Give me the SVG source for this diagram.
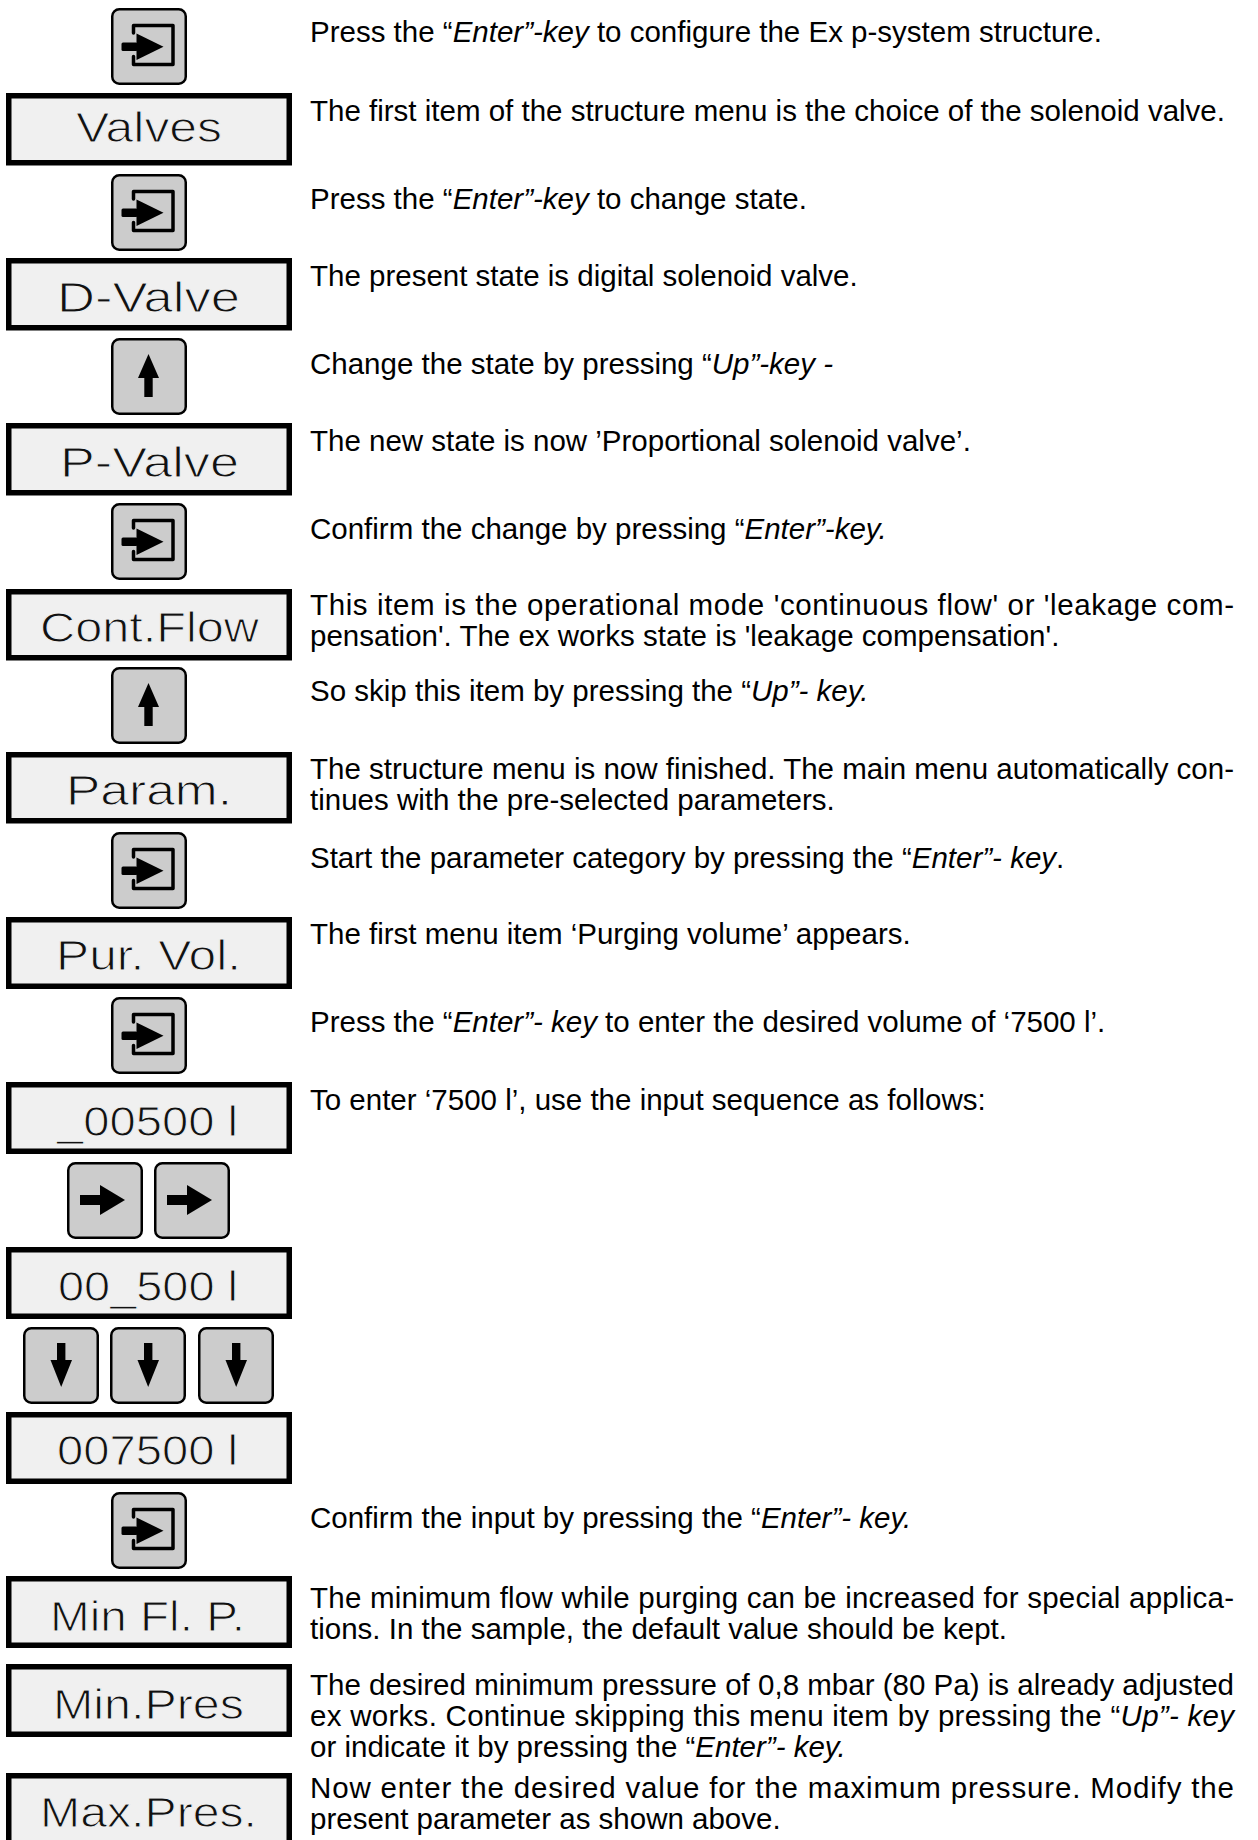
<svg xmlns="http://www.w3.org/2000/svg" xmlns:xlink="http://www.w3.org/1999/xlink" width="1258" height="1840" viewBox="0 0 1258 1840">
<style>
  .kb { fill:#cccccc; stroke:#000; stroke-width:2.5; }
  .db { fill:#f0f0f0; stroke:#000; stroke-width:5.5; }
  .dt { font-family:"Liberation Sans", Arial, sans-serif; font-size:42px; fill:#111; stroke:#f0f0f0; stroke-width:1px; }
  .ds { font-family:"Liberation Sans", Arial, sans-serif; font-size:29.5px; fill:#000; }
  .it { font-style:italic; }
</style>
<defs>
  <rect id="keyBg" class="kb" x="1.25" y="1.25" width="73.5" height="74.5" rx="7"/>
  <g id="enterIcon">
    <path d="M22.5,25 V17.5 H62 V56.5 H22.5 V48.5" fill="none" stroke="#000" stroke-width="3.5" stroke-linejoin="round" stroke-linecap="round"/>
    <rect x="10.5" y="34.5" width="16" height="8.5" rx="1.5"/>
    <path d="M25.5,25.5 L25.5,52 L52.5,38.75 Z"/>
  </g>
  <g id="upIcon">
    <path d="M37.5,16 L48,40 L27,40 Z"/>
    <rect x="33.3" y="39" width="8.4" height="20"/>
  </g>
  <g id="downIcon">
    <rect x="34" y="16" width="8.4" height="18"/>
    <path d="M27.5,33 L49,33 L38.2,60 Z"/>
  </g>
  <g id="rightIcon">
    <rect x="13" y="33" width="21" height="10"/>
    <path d="M33,23 L33,53 L58,38 Z"/>
  </g>
</defs>

<!-- keys -->
<g id="key-enter-1" transform="translate(111,8)"><use xlink:href="#keyBg"/><use xlink:href="#enterIcon"/></g>
<g id="key-enter-2" transform="translate(111,174)"><use xlink:href="#keyBg"/><use xlink:href="#enterIcon"/></g>
<g id="key-up-1" transform="translate(111,338)"><use xlink:href="#keyBg"/><use xlink:href="#upIcon"/></g>
<g id="key-enter-3" transform="translate(111,503)"><use xlink:href="#keyBg"/><use xlink:href="#enterIcon"/></g>
<g id="key-up-2" transform="translate(111,667)"><use xlink:href="#keyBg"/><use xlink:href="#upIcon"/></g>
<g id="key-enter-4" transform="translate(111,832)"><use xlink:href="#keyBg"/><use xlink:href="#enterIcon"/></g>
<g id="key-enter-5" transform="translate(111,997)"><use xlink:href="#keyBg"/><use xlink:href="#enterIcon"/></g>
<g id="key-right-1" transform="translate(67,1162)"><use xlink:href="#keyBg"/><use xlink:href="#rightIcon"/></g>
<g id="key-right-2" transform="translate(154,1162)"><use xlink:href="#keyBg"/><use xlink:href="#rightIcon"/></g>
<g id="key-down-1" transform="translate(23,1327)"><use xlink:href="#keyBg"/><use xlink:href="#downIcon"/></g>
<g id="key-down-2" transform="translate(110,1327)"><use xlink:href="#keyBg"/><use xlink:href="#downIcon"/></g>
<g id="key-down-3" transform="translate(198,1327)"><use xlink:href="#keyBg"/><use xlink:href="#downIcon"/></g>
<g id="key-enter-6" transform="translate(111,1492)"><use xlink:href="#keyBg"/><use xlink:href="#enterIcon"/></g>

<!-- displays -->
<g id="disp-valves"><rect class="db" x="8.75" y="95.75" width="280.5" height="67"/><text class="dt" x="76" y="142" textLength="146" lengthAdjust="spacingAndGlyphs">Valves</text></g>
<g id="disp-dvalve"><rect class="db" x="8.75" y="260.75" width="280.5" height="67"/><text class="dt" x="57" y="312" textLength="183" lengthAdjust="spacingAndGlyphs">D-Valve</text></g>
<g id="disp-pvalve"><rect class="db" x="8.75" y="425.75" width="280.5" height="67"/><text class="dt" x="60" y="477" textLength="179" lengthAdjust="spacingAndGlyphs">P-Valve</text></g>
<g id="disp-contflow"><rect class="db" x="8.75" y="591.75" width="280.5" height="66"/><text class="dt" x="40" y="642" textLength="219" lengthAdjust="spacingAndGlyphs">Cont.Flow</text></g>
<g id="disp-param"><rect class="db" x="8.75" y="754.75" width="280.5" height="66"/><text class="dt" x="66" y="805" textLength="166" lengthAdjust="spacingAndGlyphs">Param.</text></g>
<g id="disp-purvol"><rect class="db" x="8.75" y="919.75" width="280.5" height="66.5"/><text class="dt" x="56" y="970" textLength="185" lengthAdjust="spacingAndGlyphs">Pur. Vol.</text></g>
<g id="disp-00500a"><rect class="db" x="8.75" y="1084.75" width="280.5" height="66.5"/><text class="dt" x="57" y="1136" textLength="181" lengthAdjust="spacingAndGlyphs">_00500 l</text></g>
<g id="disp-00500b"><rect class="db" x="8.75" y="1249.75" width="280.5" height="66.5"/><text class="dt" x="58" y="1301" textLength="180" lengthAdjust="spacingAndGlyphs">00_500 l</text></g>
<g id="disp-007500"><rect class="db" x="8.75" y="1414.75" width="280.5" height="66.5"/><text class="dt" x="57" y="1465" textLength="181" lengthAdjust="spacingAndGlyphs">007500 l</text></g>
<g id="disp-minflp"><rect class="db" x="8.75" y="1578.75" width="280.5" height="66.5"/><text class="dt" x="50" y="1631" textLength="195" lengthAdjust="spacingAndGlyphs">Min Fl. P.</text></g>
<g id="disp-minpres"><rect class="db" x="8.75" y="1666.75" width="280.5" height="67.5"/><text class="dt" x="53" y="1719" textLength="191" lengthAdjust="spacingAndGlyphs">Min.Pres</text></g>
<g id="disp-maxpres"><rect class="db" x="8.75" y="1775.75" width="280.5" height="70"/><text class="dt" x="40" y="1827" textLength="217" lengthAdjust="spacingAndGlyphs">Max.Pres.</text></g>

<!-- descriptions -->
<g id="descriptions" class="ds">
  <text x="310" y="42">Press the “<tspan class="it">Enter”-key</tspan> to configure the Ex p-system structure.</text>
  <text x="310" y="121">The first item of the structure menu is the choice of the solenoid valve.</text>
  <text x="310" y="209">Press the “<tspan class="it">Enter”-key</tspan> to change state.</text>
  <text x="310" y="286">The present state is digital solenoid valve.</text>
  <text x="310" y="374">Change the state by pressing “<tspan class="it">Up”-key -</tspan></text>
  <text x="310" y="451">The new state is now ’Proportional solenoid valve’.</text>
  <text x="310" y="539">Confirm the change by pressing “<tspan class="it">Enter”-key.</tspan></text>
  <text x="310" y="615" textLength="924" lengthAdjust="spacing">This item is the operational mode 'continuous flow' or 'leakage com-</text>
  <text x="310" y="646">pensation'. The ex works state is 'leakage compensation'.</text>
  <text x="310" y="701">So skip this item by pressing the “<tspan class="it">Up”- key.</tspan></text>
  <text x="310" y="779" textLength="924" lengthAdjust="spacing">The structure menu is now finished. The main menu automatically con-</text>
  <text x="310" y="810">tinues with the pre-selected parameters.</text>
  <text x="310" y="868">Start the parameter category by pressing the “<tspan class="it">Enter”- key</tspan>.</text>
  <text x="310" y="944">The first menu item ‘Purging volume’ appears.</text>
  <text x="310" y="1032">Press the “<tspan class="it">Enter”- key</tspan> to enter the desired volume of ‘7500 l’.</text>
  <text x="310" y="1110">To enter ‘7500 l’, use the input sequence as follows:</text>
  <text x="310" y="1528">Confirm the input by pressing the “<tspan class="it">Enter”- key.</tspan></text>
  <text x="310" y="1608" textLength="924" lengthAdjust="spacing">The minimum flow while purging can be increased for special applica-</text>
  <text x="310" y="1639">tions. In the sample, the default value should be kept.</text>
  <text x="310" y="1695" textLength="924" lengthAdjust="spacing">The desired minimum pressure of 0,8 mbar (80 Pa) is already adjusted</text>
  <text x="310" y="1726" textLength="924" lengthAdjust="spacing">ex works. Continue skipping this menu item by pressing the “<tspan class="it">Up”- key</tspan></text>
  <text x="310" y="1757">or indicate it by pressing the “<tspan class="it">Enter”- key.</tspan></text>
  <text x="310" y="1798" textLength="924" lengthAdjust="spacing">Now enter the desired value for the maximum pressure. Modify the</text>
  <text x="310" y="1829">present parameter as shown above.</text>
</g>
</svg>
